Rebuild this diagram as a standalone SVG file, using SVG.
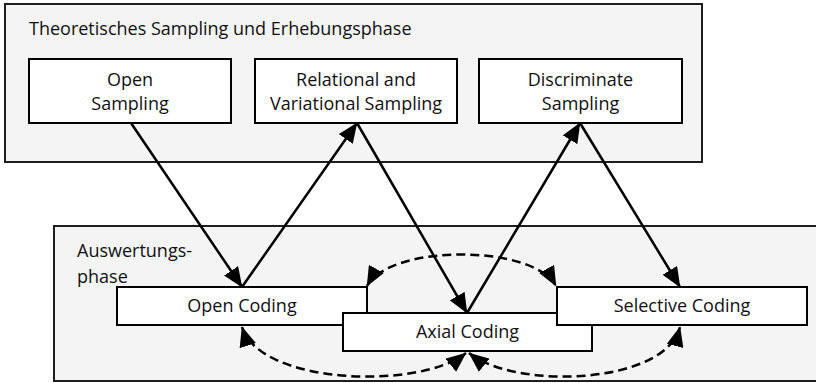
<svg xmlns="http://www.w3.org/2000/svg" width="816" height="383" viewBox="0 0 816 383">
  <style>
    .phase { fill: #f4f4f4; stroke: #1e1e1e; stroke-width: 2; }
    .box { fill: #ffffff; stroke: #000000; stroke-width: 2; }
    text { font-family: "Open Sans", "DejaVu Sans", sans-serif; font-size: 18px; fill: #111111; }
    .c { text-anchor: middle; }
    .flow { fill: none; stroke: #000000; stroke-width: 2.5; }
    .loop { fill: none; stroke: #000000; stroke-width: 2.5; stroke-dasharray: 9 5; }
  </style>
  <defs>
    <marker id="head" markerUnits="userSpaceOnUse" markerWidth="21" markerHeight="17" refX="19.5" refY="8.5" orient="auto-start-reverse" viewBox="0 0 21 17">
      <path d="M0,0 L20,8.5 L0,17 Z" fill="#000000"/>
    </marker>
  </defs>

  <!-- sampling / data collection phase -->
  <g id="sampling-phase">
    <rect class="phase" x="5" y="4" width="697" height="158"/>
    <text x="29" y="35">Theoretisches Sampling und Erhebungsphase</text>
  </g>
  <g id="open-sampling">
    <rect class="box" x="29" y="59" width="202" height="64"/>
    <text class="c" x="130" y="86">Open</text>
    <text class="c" x="130" y="110">Sampling</text>
  </g>
  <g id="relational-sampling">
    <rect class="box" x="255" y="59" width="202" height="64"/>
    <text class="c" x="356" y="86">Relational and</text>
    <text class="c" x="356" y="110">Variational Sampling</text>
  </g>
  <g id="discriminate-sampling">
    <rect class="box" x="479" y="59" width="203" height="64"/>
    <text class="c" x="580.5" y="86">Discriminate</text>
    <text class="c" x="580.5" y="110">Sampling</text>
  </g>

  <!-- analysis phase -->
  <g id="analysis-phase">
    <rect class="phase" x="54" y="226" width="770" height="155"/>
    <text x="77" y="257">Auswertungs-</text>
    <text x="77" y="283">phase</text>
  </g>
  <g id="open-coding">
    <rect class="box" x="117" y="287" width="250" height="38"/>
    <text class="c" x="242" y="312">Open Coding</text>
  </g>
  <g id="axial-coding">
    <rect class="box" x="343" y="313" width="249" height="38"/>
    <text class="c" x="467.5" y="338">Axial Coding</text>
  </g>
  <g id="selective-coding">
    <rect class="box" x="557" y="287" width="250" height="38"/>
    <text class="c" x="682" y="312">Selective Coding</text>
  </g>

  <!-- connectors -->
  <g id="connectors">
    <line class="flow" x1="131" y1="123" x2="242" y2="287" marker-end="url(#head)"/>
    <line class="flow" x1="242" y1="287" x2="357" y2="123" marker-end="url(#head)"/>
    <line class="flow" x1="357" y1="123" x2="467" y2="313" marker-end="url(#head)"/>
    <line class="flow" x1="467" y1="313" x2="580" y2="123" marker-end="url(#head)"/>
    <line class="flow" x1="580" y1="123" x2="680" y2="287" marker-end="url(#head)"/>
    <path class="loop" d="M367,286 C390,244 533,244 556,286" marker-start="url(#head)" marker-end="url(#head)"/>
    <path class="loop" d="M242,327 C260,385 420,390 466,353" marker-start="url(#head)" marker-end="url(#head)"/>
    <path class="loop" d="M469,353 C515,390 665,385 680,327" marker-start="url(#head)" marker-end="url(#head)"/>
  </g>
</svg>
